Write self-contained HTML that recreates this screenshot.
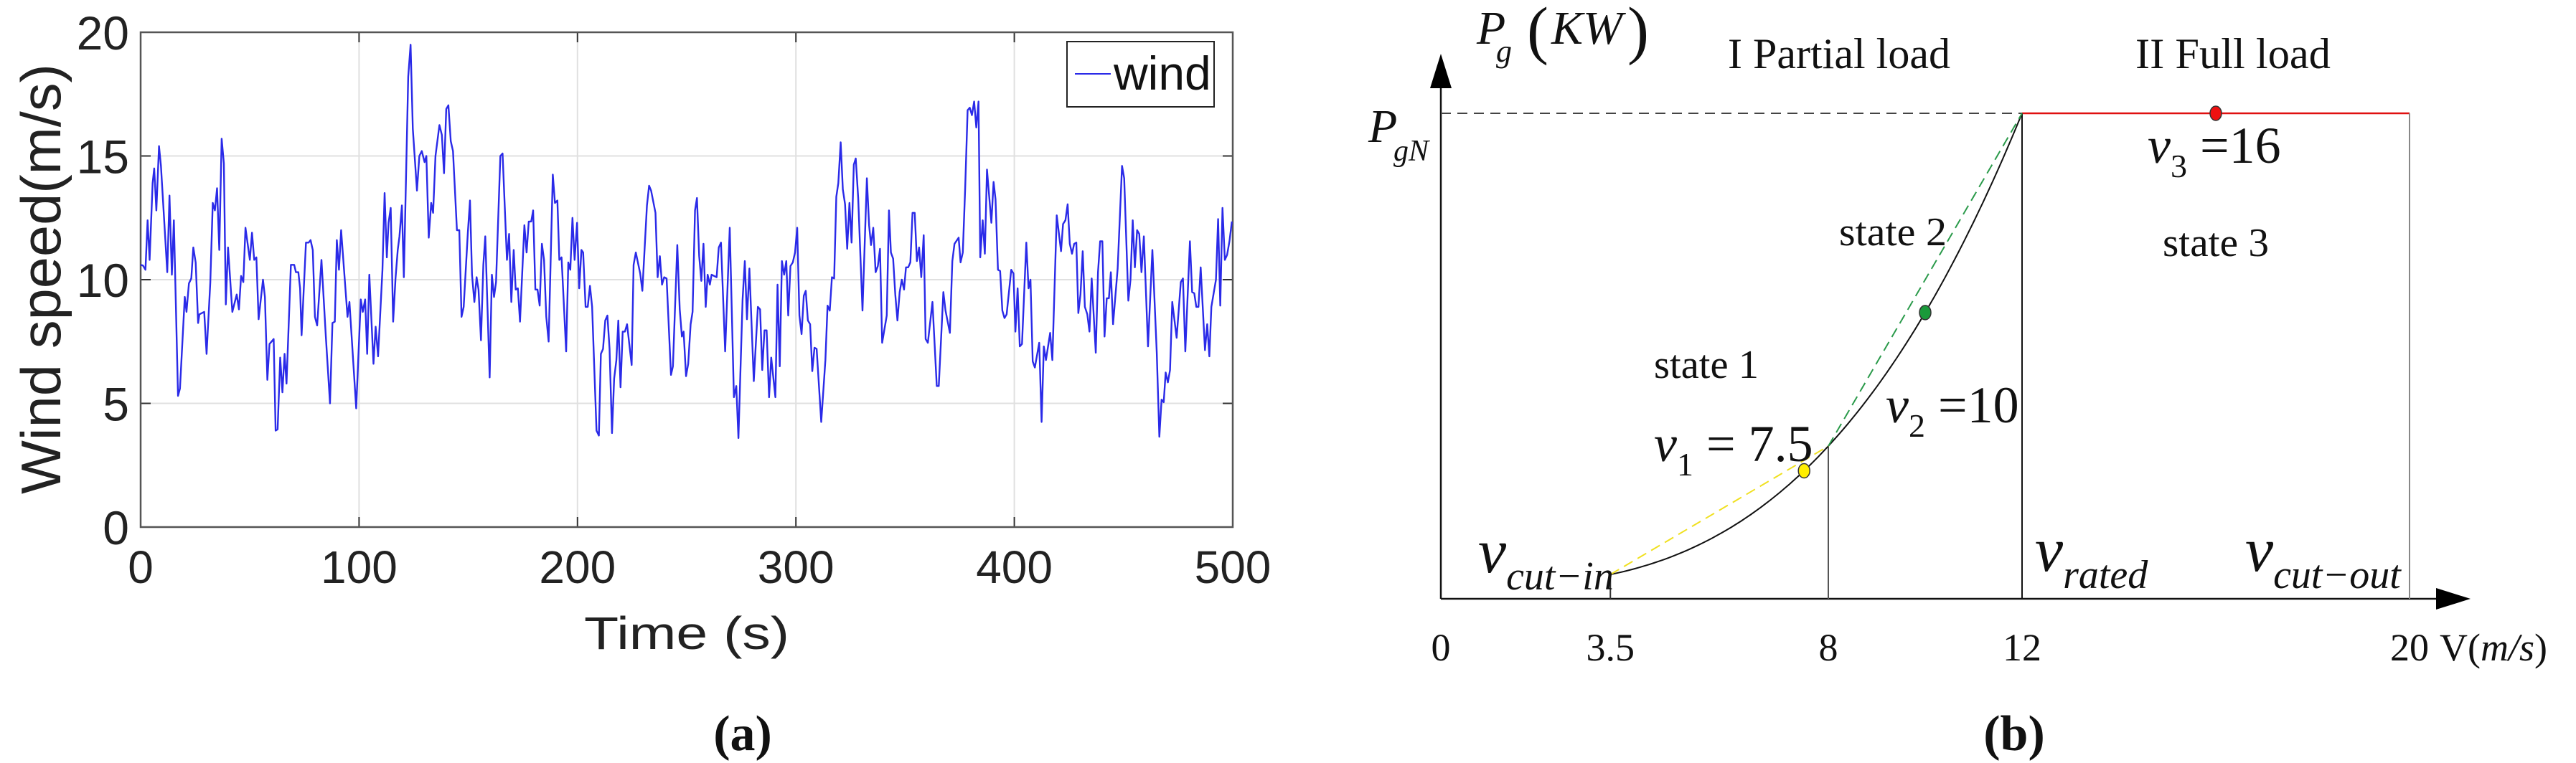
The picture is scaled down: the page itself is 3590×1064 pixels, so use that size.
<!DOCTYPE html>
<html>
<head>
<meta charset="utf-8">
<style>
html,body{margin:0;padding:0;background:#fff;}
svg{display:block;}
.sans{font-family:"Liberation Sans",sans-serif;}
.serif{font-family:"Liberation Serif",serif;}
</style>
</head>
<body>
<svg id="fig" width="3590" height="1064" viewBox="0 0 3590 1064" xmlns="http://www.w3.org/2000/svg">
  <g id="panelA"></g>
  <g id="panelB"></g>
</svg>
<script>
// ---------- Panel (a) data ----------
const windTimes = [0,1.1,2.2,3.2,4.1,5.5,6.2,7.2,8.4,9.3,12.2,13.2,14.3,15.2,17.1,18,20.2,21,22.1,23.2,24.1,25.2,26.3,26.9,29.1,30.2,31.9,33,34,35,36,37.1,38.1,39,40,42,44,45,46,47,48,50,51,52,53,54,56,56.9,58,59,60.9,61.8,62.7,63.9,64.9,65.9,66.8,68.8,70.3,71.1,72.2,73,73.7,75.7,76.9,77.8,78.8,79.8,80.8,82.8,84.8,86.7,87.8,88.9,89.8,90.8,91.8,94.7,95.6,98.7,100.8,101.7,102.8,103.7,104.7,106.6,107.6,108.7,110.7,111.7,112.7,113.5,114.5,115.6,116.7,117.7,118.5,119.6,120.5,122.5,123.6,124.6,126.5,127.6,128.7,130,130.8,131.9,133,133.9,135,136.8,137.9,138.9,139.9,140.9,142,143,144.8,145.9,146.9,147.9,149.8,150.8,151.7,152.8,153.8,154.7,155.8,156.9,157.8,159.8,160.8,161.8,162.7,164.7,165.7,167.7,168.7,169.7,170.8,171.7,172.7,173.7,175.7,176.7,177.7,178.8,179.7,180.7,181.7,182.7,183.7,184.7,185.7,186.8,188.7,189.7,190.8,191.7,192.7,194.8,195.8,196.7,197.7,198.7,199.8,200.8,201.8,202.6,203.7,204.7,205.7,206.7,208.7,209.8,210.7,211.7,212.7,213.7,214.7,215.8,216.8,217.8,218.7,219.7,220.7,221.7,222.7,224.8,225.7,226.7,228.7,229.7,231.8,232.8,233.7,235.7,236.7,237.7,238.7,239.7,240.8,242.8,243.7,245.7,246.8,247.8,248.6,249.7,250.7,251.8,252.7,253.8,254.7,255.7,256.7,257.7,258.7,259.6,260.6,261.4,263.7,264.7,265.7,267.6,269.7,271.6,272.7,273.7,275.6,276.6,277.6,278.7,280.7,282.6,283.6,284.6,285.6,286.6,287.7,288.7,290.6,291.6,292.6,293.6,294.6,295.6,296.5,297.5,298.6,299.6,300.6,301.6,302.6,303.6,304.5,305.5,306.5,307.5,308.5,309.5,311.6,313.5,314.5,315.5,316.5,317.5,318.5,319.4,320.5,321.5,322.5,323.5,324.5,325.5,326.5,327.4,328.5,330.5,332.5,333.5,334.4,335.4,336.5,337.5,338.5,339.5,341.6,342.6,343.5,344.5,345.5,346.5,347.5,348.5,349.5,350.4,351.4,352.4,353.4,354.4,355.4,356.4,357.4,358.5,359.4,360.4,362.5,364.5,365.4,367.5,368.5,370.5,371.6,372.6,374.5,375.4,376.4,377.5,378.6,379.6,380.6,381.6,382.6,383.6,384.4,385.5,386.5,387.5,389.5,390.5,391.4,392.5,393.5,394.5,395.5,396.5,398.6,399.6,400.5,401.5,402.5,403.5,405.5,406.5,407.4,408.4,409.4,411.4,412.5,413.5,414.5,416.4,417.4,419.4,421.4,422.3,423.4,424.4,425.4,426.4,427.4,428.4,429.3,430.3,431.3,432.3,433.4,434.4,435.4,437.3,438.3,439.3,440.3,441.3,442.3,443.3,444.2,445.2,447.3,449.3,450.3,452.2,453.2,454.2,455.2,456.2,457.2,458.2,459.3,461.2,463.2,465.2,466.4,467.4,468.4,469.3,470.3,471.3,472.3,474.3,476.2,477.2,478.3,480.4,481.4,482.4,483.3,484.3,485.3,487.3,488.3,489.3,490.2,492.3,493.3,494.3,495.3,496.4,497.4,498.5,499.6];
const windValues = [10.6,10.57,10.4,12.4,10.8,13.9,14.5,12.8,15.4,14.6,10.3,13.4,10.2,12.4,5.3,5.6,9.3,8.7,9.85,10.05,11.3,10.7,8.25,8.6,8.7,7.0,9.9,13.1,12.8,13.7,11.2,15.7,14.7,9.0,11.3,8.7,9.4,8.8,10.15,9.9,12.1,10.8,11.9,10.8,10.9,8.4,10.0,9.3,5.95,7.4,7.6,3.9,3.95,6.85,5.45,7.0,5.8,10.6,10.6,10.3,10.3,9.65,7.75,11.5,11.5,11.6,11.2,8.5,8.15,10.8,7.7,5.0,8.25,8.3,11.6,10.4,12.0,8.5,9.1,4.8,9.2,8.7,9.2,7.0,10.2,6.6,8.1,6.9,10.4,13.5,10.9,12.3,12.9,8.3,10.05,11.2,11.75,13.0,10.1,18.2,19.5,16.1,13.6,15.0,15.2,14.75,15.0,11.7,13.1,12.7,15.0,16.25,15.85,14.3,16.9,17.05,15.6,15.2,12.0,12.0,8.5,8.9,11.9,13.2,10.2,9.1,10.1,9.6,7.55,10.6,11.75,6.05,10.2,9.3,9.9,15.0,15.1,10.8,11.85,9.1,11.2,9.6,9.65,8.3,12.2,11.1,12.35,12.35,12.8,9.6,9.6,8.95,11.45,10.8,8.5,7.5,14.25,13.1,13.2,10.8,10.9,7.1,10.7,10.4,12.5,10.8,12.3,9.65,11.2,11.1,8.9,8.9,9.75,8.9,3.9,3.7,7.0,7.2,8.35,8.55,7.2,3.8,6.0,6.75,8.35,5.65,7.9,7.9,8.2,6.55,10.6,11.1,10.25,9.55,13.0,13.8,13.6,12.7,10.1,10.95,9.8,10.1,10.05,6.15,6.5,11.4,8.8,7.7,7.9,6.1,6.6,8.2,8.7,12.8,13.3,10.95,9.95,11.45,8.9,10.2,9.8,10.2,10.1,11.3,11.5,7.1,12.1,5.25,5.7,3.6,9.2,10.75,8.4,10.45,5.9,8.9,8.8,6.35,7.95,7.95,5.25,6.85,5.25,9.8,6.5,10.75,10.2,10.75,8.55,10.55,10.7,11.1,12.1,8.55,7.8,9.35,9.55,8.35,8.2,6.3,7.25,7.2,4.25,6.75,8.95,8.75,10.1,10.05,13.35,13.9,15.55,13.65,13.05,11.25,13.1,11.5,14.65,14.9,13.3,8.75,14.1,12.2,11.4,12.1,10.3,10.55,11.25,7.45,8.55,12.8,11.1,10.85,9.4,8.35,9.5,10.0,9.6,10.5,10.5,10.7,12.7,12.7,10.75,11.3,10.1,11.8,7.6,7.45,9.1,5.7,5.7,9.5,8.75,7.85,10.75,11.45,11.7,10.7,11.1,13.7,16.85,16.95,16.65,17.2,16.15,17.2,10.9,12.4,11.05,14.45,12.3,13.95,13.25,10.4,10.35,8.75,8.45,8.6,10.4,10.25,7.9,9.65,7.3,7.4,11.5,9.65,10.0,6.7,6.45,7.45,4.25,7.3,6.75,7.85,6.75,12.6,11.15,12.25,12.4,13.05,11.45,11.05,11.45,11.5,8.65,9.4,11.15,8.9,8.6,7.9,10.05,7.05,10.3,11.55,11.55,7.7,9.25,9.25,10.3,8.2,10.45,14.6,14.1,9.15,10.0,12.4,10.5,12.0,11.85,10.3,11.75,7.3,11.2,7.05,3.65,5.15,5.05,6.25,5.85,6.35,9.1,7.65,9.9,10.05,7.1,11.55,9.5,9.45,8.9,8.9,10.5,7.15,8.2,6.9,8.9,10.0,12.45,8.95,12.9,10.8,11.0,11.55,12.35];
const xTicksA = [0,100,200,300,400,500];
const yTicksA = [0,5,10,15,20];

// ---------- Panel (b) data ----------
const vCutIn = 3.5, vBreak = 8, vRated = 12, vCutOut = 20;
const xTickLabelsB = ["0","3.5","8","12","20"];
const xTickValsB = [0,3.5,8,12,20];
const markerSpeeds = [7.5,10,16];
const markerColors = ["#ffee00","#1a9a3a","#ee1111"];

const NS = "http://www.w3.org/2000/svg";
function mk(parent, tag, attrs, text){
  const e = document.createElementNS(NS, tag);
  for (const k in attrs) e.setAttribute(k, attrs[k]);
  if (text !== undefined) e.textContent = text;
  parent.appendChild(e);
  return e;
}

// ===== Panel A =====
const A = document.getElementById('panelA');
const AL=196, AR=1718, AT=45, AB=735;
const xA = t => AL + (t/500)*(AR-AL);
const yA = v => AB - (v/20)*(AB-AT);

yTicksA.forEach(v=>{
  if (v>0 && v<20){
    const g = mk(A,'line',{x1:AL,x2:AR,y1:yA(v),y2:yA(v),stroke:'#e0e0e0','stroke-width':2});
    
    
  }
  const tk = mk(A,'line',{x1:AL,x2:AL+14,y1:yA(v),y2:yA(v),stroke:'#333','stroke-width':2});
  
  
  const tk2 = mk(A,'line',{x1:AR-14,x2:AR,y1:yA(v),y2:yA(v),stroke:'#333','stroke-width':2});
  
  
  const lb = mk(A,'text',{x:180,y:yA(v)+24,'text-anchor':'end','font-size':66,fill:'#222',class:'sans'},String(v));
  
  
});
xTicksA.forEach(t=>{
  if (t>0 && t<500){
    const g = mk(A,'line',{x1:xA(t),x2:xA(t),y1:AT,y2:AB,stroke:'#e0e0e0','stroke-width':2});
    
    
  }
  const tk = mk(A,'line',{x1:xA(t),x2:xA(t),y1:AB,y2:AB-14,stroke:'#333','stroke-width':2});
  
  
  const tk2 = mk(A,'line',{x1:xA(t),x2:xA(t),y1:AT,y2:AT+14,stroke:'#333','stroke-width':2});
  
  
  const lb = mk(A,'text',{x:xA(t),y:813,'text-anchor':'middle','font-size':64,fill:'#222',class:'sans'},String(t));
  
  
});
const frame = mk(A,'rect',{x:AL,y:AT,width:AR-AL,height:AB-AT,fill:'none',stroke:'#555','stroke-width':2.5});



const pts = windTimes.map((t,i)=>xA(t).toFixed(1)+','+yA(windValues[i]).toFixed(1)).join(' ');
const wl = mk(A,'polyline',{points:pts,fill:'none',stroke:'#2a2ae8','stroke-width':2.4,'stroke-linejoin':'round'});



const lg = mk(A,'g',{});


mk(lg,'rect',{x:1487,y:58,width:205,height:91,fill:'#fff',stroke:'#222','stroke-width':2});
const ll = mk(lg,'line',{x1:1498,x2:1548,y1:103,y2:103,stroke:'#2a2ae8','stroke-width':2});


const lt = mk(lg,'text',{x:1552,y:125,'font-size':66,fill:'#111',class:'sans'},'wind');



const yt = mk(A,'text',{x:84,y:389,'text-anchor':'middle','font-size':78,fill:'#222',class:'sans',transform:'rotate(-90 84 389)',textLength:600,lengthAdjust:'spacingAndGlyphs'},'Wind speed(m/s)');


const xt = mk(A,'text',{x:957,y:905,'text-anchor':'middle','font-size':64,fill:'#222',class:'sans',textLength:286,lengthAdjust:'spacingAndGlyphs'},'Time (s)');


const ca = mk(A,'text',{x:1035,y:1046,'text-anchor':'middle','font-size':70,'font-weight':'bold',fill:'#111',class:'serif'},'(a)');



// ===== Panel B =====
const B = document.getElementById('panelB');
const BX0=2008, BXS=67.5, BY0=835, BYN=158;
const xB = v => BX0 + v*BXS;
const pNorm = v => Math.pow(v/vRated,3);
const yB = p => BY0 - p*(BY0-BYN);
const yCurve = v => yB(0.05 + 0.95*(pNorm(v)-pNorm(vCutIn))/(1-pNorm(vCutIn)));

const ax = mk(B,'line',{x1:BX0,y1:BY0,x2:3400,y2:BY0,stroke:'#111','stroke-width':2.5});


const axh = mk(B,'polygon',{points:'3395,820 3443,835 3395,850',fill:'#000'});


const ay = mk(B,'line',{x1:BX0,y1:BY0,x2:BX0,y2:118,stroke:'#111','stroke-width':2.5});


const ayh = mk(B,'polygon',{points:'1993,123 2008,75 2023,123',fill:'#000'});



const dash = mk(B,'line',{x1:BX0,y1:BYN,x2:xB(vRated),y2:BYN,stroke:'#444','stroke-width':2,'stroke-dasharray':'14,9'});


const red = mk(B,'line',{x1:xB(vRated),y1:BYN,x2:xB(vCutOut),y2:BYN,stroke:'#e01010','stroke-width':2.5});



[[vCutIn,yCurve(vCutIn),'#333'],[vBreak,yCurve(vBreak),'#555'],[vRated,BYN,'#111'],[vCutOut,BYN,'#888']].forEach(a=>{
  const l = mk(B,'line',{x1:xB(a[0]),x2:xB(a[0]),y1:a[1],y2:BY0,stroke:a[2],'stroke-width':2});
  
  
});

let cp=[];
for(let v=vCutIn; v<=vRated+1e-9; v+=0.1) cp.push(xB(v).toFixed(1)+','+yCurve(v).toFixed(1));
const curve = mk(B,'polyline',{points:cp.join(' '),fill:'none',stroke:'#111','stroke-width':2});


const yl = mk(B,'line',{x1:xB(vCutIn),y1:yCurve(vCutIn),x2:xB(vBreak),y2:yCurve(vBreak),stroke:'#f0e020','stroke-width':2,'stroke-dasharray':'14,8'});


const gl = mk(B,'line',{x1:xB(vBreak),y1:yCurve(vBreak),x2:xB(vRated),y2:BYN,stroke:'#2a9a4a','stroke-width':2,'stroke-dasharray':'14,8'});



markerSpeeds.forEach((v,i)=>{
  const cy = v>=vRated ? BYN : yCurve(v);
  const m = mk(B,'ellipse',{cx:xB(v),cy:cy,rx:8,ry:10,fill:markerColors[i],stroke:'#333','stroke-width':1.5});
  
  
});

xTickValsB.forEach((v,i)=>{
  const t = mk(B,'text',{x:xB(v),y:921,'text-anchor':'middle','font-size':54,fill:'#111',class:'serif'},xTickLabelsB[i]);
  
  
});
</script>
<script>
(function(){
const B = document.getElementById('panelB');
B.insertAdjacentHTML('beforeend', `
<text x="3400" y="921" font-size="54" fill="#111" class="serif">V(<tspan font-style="italic">m/s</tspan>)</text>
<text x="2058" y="61" font-size="66" fill="#111" class="serif" font-style="italic">P</text>
<text x="2085" y="86" font-size="44" fill="#111" class="serif" font-style="italic">g</text>
<text x="2128" y="72" font-size="90" fill="#111" class="serif">(</text>
<text x="2162" y="61" font-size="66" fill="#111" class="serif" font-style="italic">KW</text>
<text x="2268" y="72" font-size="90" fill="#111" class="serif">)</text>
<text x="2408" y="95" font-size="60" fill="#111" class="serif" textLength="310" lengthAdjust="spacingAndGlyphs">I Partial load</text>
<text x="2976" y="95" font-size="60" fill="#111" class="serif" textLength="272" lengthAdjust="spacingAndGlyphs">II  Full load</text>
<text x="1907" y="198" font-size="66" fill="#111" class="serif" font-style="italic">P</text>
<text x="1942" y="224" font-size="42" fill="#111" class="serif" font-style="italic">gN</text>
<text x="2563" y="342" font-size="56" fill="#111" class="serif" textLength="150" lengthAdjust="spacingAndGlyphs">state 2</text>
<text x="3014" y="357" font-size="56" fill="#111" class="serif" textLength="148" lengthAdjust="spacingAndGlyphs">state 3</text>
<text x="2305" y="527" font-size="56" fill="#111" class="serif" textLength="146" lengthAdjust="spacingAndGlyphs">state 1</text>
<text x="2993" y="227" font-size="72" fill="#111" class="serif"><tspan font-style="italic">v</tspan><tspan font-size="46" dy="20">3</tspan><tspan dy="-20"> =16</tspan></text>
<text x="2628" y="589" font-size="72" fill="#111" class="serif"><tspan font-style="italic">v</tspan><tspan font-size="46" dy="20">2</tspan><tspan dy="-20"> =10</tspan></text>
<text x="2305" y="643" font-size="72" fill="#111" class="serif"><tspan font-style="italic">v</tspan><tspan font-size="46" dy="20">1</tspan><tspan dy="-20"> = 7.5</tspan></text>
<text x="2060" y="798" font-size="88" fill="#111" class="serif" font-style="italic">v<tspan font-size="56" dy="24">cut−in</tspan></text>
<text x="2836" y="796" font-size="88" fill="#111" class="serif" font-style="italic">v<tspan font-size="56" dy="24">rated</tspan></text>
<text x="3129" y="796" font-size="88" fill="#111" class="serif" font-style="italic">v<tspan font-size="56" dy="24">cut−out</tspan></text>
<text x="2807" y="1046" text-anchor="middle" font-size="70" font-weight="bold" fill="#111" class="serif">(b)</text>
`);
})();
</script>
</body>
</html>
